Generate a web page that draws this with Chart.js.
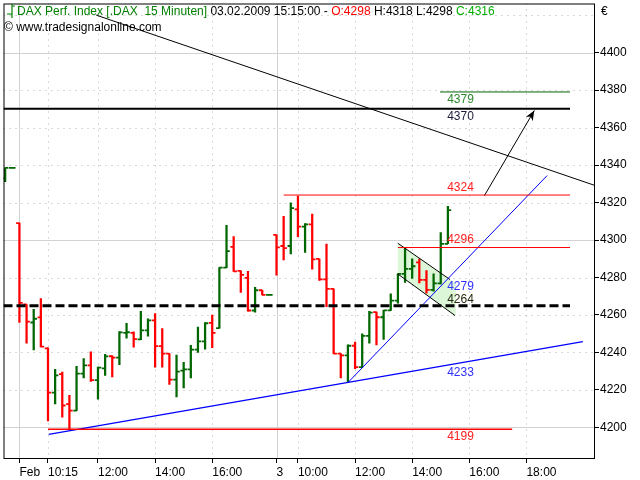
<!DOCTYPE html>
<html>
<head>
<meta charset="utf-8">
<script src="https://cdn.jsdelivr.net/npm/chart.js@4.4.1/dist/chart.umd.min.js"></script>
<style>
  html, body { margin: 0; padding: 0; background: #fff; }
</style>
</head>
<body>
<canvas id="dax" width="640" height="480"></canvas>
<script>
// 15 minute bars, first one is two bars before Feb 2 09:15
const firstBar = -2;
const opens  = [4333, 4338.5,
  4309, 4265.6, 4256, 4258.7, 4242.2, 4218.6, 4228.4, 4212.4, 4209, 4228.7,
  4233.1, 4225.3, 4231.5, 4238, 4237.3, 4250.5, 4250.5, 4247, 4251.8, 4257.1,
  4243.4, 4239.4, 4225.5, 4230.3, 4231, 4241.5, 4245.9, 4255.8, 4253, 4285.3,
  4296.3, 4283.5, 4279.8, 4262.4, 4273.2, 4270.7,
  4302.8, 4296.8, 4296.8, 4316.4, 4307.2, 4308.4, 4289.9, 4279, 4273.9, 4239.4,
  4238.5, 4243.6, 4232.2, 4248.9, 4261.5, 4258.8, 4262.5, 4267.7, 4281.9, 4284.6,
  4288.1, 4278.7, 4273.4, 4276.9, 4298];
const highs  = [4338.5, 4338.5,
  4309, 4265.6, 4263, 4268.8, 4242.5, 4231, 4229.6, 4217.2, 4232.6, 4236.7,
  4240.4, 4232.2, 4239, 4238.2, 4251.1, 4255.5, 4251, 4261.9, 4258, 4260.8,
  4252.8, 4239.4, 4238.6, 4234.7, 4243.8, 4253.5, 4256, 4259.9, 4285.3, 4307.8,
  4301.8, 4283.5, 4283.3, 4274.8, 4273.2, 4270.7,
  4302.8, 4312.6, 4319.8, 4323.4, 4308.8, 4313.8, 4289.9, 4297.9, 4273.9, 4239.4,
  4244.1, 4245.5, 4250, 4262, 4261.5, 4262.5, 4271.3, 4281.9, 4295.7, 4290,
  4289.9, 4283.7, 4281.9, 4304, 4318];
const lows   = [4331.2, 4338.5,
  4256, 4245, 4241.3, 4243, 4203.5, 4212.6, 4205.5, 4198.6, 4209, 4226.4,
  4224.6, 4215.1, 4227.8, 4226.9, 4233.5, 4247.7, 4242.9, 4246.8, 4248.7, 4232.2,
  4232.2, 4222.9, 4216.3, 4221.1, 4226.4, 4240, 4241.8, 4242.6, 4253, 4285.3,
  4283.3, 4272.1, 4262, 4261.5, 4270.7, 4270.7,
  4281.2, 4289.4, 4292.6, 4301.8, 4293.4, 4284.4, 4278.4, 4264.5, 4239.4, 4226.4,
  4223.9, 4231.4, 4232.2, 4245, 4244, 4247, 4262.5, 4266.3, 4277.4, 4279.5,
  4277.1, 4271.6, 4272.7, 4276.6, 4298];
const closes = [4338.5, 4338.5,
  4266.5, 4256.5, 4258, 4243.1, 4218.6, 4227.8, 4211.7, 4209, 4228.7, 4233.1,
  4225.3, 4231.9, 4237.9, 4237.3, 4250.7, 4250.8, 4247.1, 4251.8, 4257.1, 4243.4,
  4239.4, 4225.5, 4229.8, 4231, 4241.5, 4245.9, 4255.6, 4250.5, 4285.3, 4294.1,
  4283.3, 4281.4, 4262.4, 4273.2, 4270.7, 4270.7,
  4296.1, 4295.7, 4317, 4307.2, 4308.4, 4289.7, 4279, 4273.9, 4239.4, 4238.5,
  4243.6, 4232.2, 4248.9, 4261.3, 4258.8, 4262.5, 4267.7, 4281.9, 4284.6, 4286,
  4278.7, 4273.4, 4276.9, 4298, 4316];

// time axis (bar index -> label)
const timeTicks  = [0, 4, 11, 19, 27, 36, 39, 47, 55, 63, 71];
const timeLabels = ["Feb", "10:15", "12:00", "14:00", "16:00", "3", "10:00", "12:00", "14:00", "16:00", "18:00"];
const dayStarts  = [0, 36];
const priceTicks = [4200, 4220, 4240, 4260, 4280, 4300, 4320, 4340, 4360, 4380, 4400];
const gridPrices = [4200, 4220, 4240, 4260, 4280, 4300, 4320, 4340, 4360, 4380, 4400, 4420];

const xMin = -2.23, xMax = 80.6;
const yMin = 4183.7, yMax = 4426.2;

// drawing tools, in (bar index, price)
const downTrend   = [{ x: 10.75, y: 4420 }, { x: 80.6, y: 4329.1 }];
const lowTrend    = [{ x: 4.1, y: 4196.3 }, { x: 78.9, y: 4245.8 }];
const steepTrend  = [{ x: 46, y: 4223.9 }, { x: 73.9, y: 4334.4 }];
const targetArrow = [{ x: 65.1, y: 4323.6 }, { x: 72.1, y: 4369.1 }];
const flagTop     = [{ x: 52.98, y: 4298.3 }, { x: 60.3, y: 4278.9 }];
const flagBottom  = [{ x: 52.98, y: 4281.9 }, { x: 61.0, y: 4259.7 }];
const flagArea    = [{ x: 52.98, y: 4298.3 }, { x: 61.1, y: 4276.9 }, { x: 61.1, y: 4259.5 }, { x: 52.98, y: 4281.9 }];

const levelPrices = [4379, 4370, 4324, 4296, 4265, 4199];
const levelFrom   = [58.9, xMin, 37, 53, xMin, 4];
const levelTo     = [77.1, 77.1, 77.1, 77.1, 77.1, 69];

const labelTexts  = ["4379", "4370", "4324", "4296", "4279", "4264", "4233", "4199"];
const labelPrices = [4379, 4370, 4324, 4296, 4279, 4264, 4233, 4199];
const labelBar    = 59.9;

const FONT = "Arial, 'Liberation Sans', sans-serif";
const UP = "#006600", DOWN = "#ff0000";

const barColors = opens.map((o, k) => closes[k] >= o ? UP : DOWN);
const idx = k => firstBar + k;

// levels: colour, width, dash
const levelStyle = [
  ["#006400", 1, []], ["#000000", 2, []], ["#ff0000", 1, []],
  ["#ff0000", 1, []], ["#000000", 3, [9, 4]], ["#ff0000", 1.5, []]
];
const labelColors = ["#2e8b2e", "#1c1c3c", "#ff2020", "#ff2020", "#3030ff", "#2a2a10", "#3030ff", "#ff2020"];
const labelBelow  = [true, true, false, false, true, false, true, true];

function seg(data, color, width, dash) {
  return {
    type: "line", data, borderColor: color, borderWidth: width, borderDash: dash || [],
    pointRadius: 0, fill: false, tension: 0, order: 0
  };
}

const datasets = [];
levelPrices.forEach((p, i) => {
  const [c, w, d] = levelStyle[i];
  datasets.push(seg([{ x: levelFrom[i], y: p }, { x: levelTo[i], y: p }], c, w, d));
});
datasets.push(seg(downTrend, "#000000", 1));
datasets.push(seg(lowTrend, "#0000ff", 1.4));
datasets.push(seg(steepTrend, "#0000ff", 1));
datasets.push(seg(targetArrow, "#000000", 1));
datasets.push(seg(flagTop, "#000000", 1));
datasets.push(seg(flagBottom, "#000000", 1));

// high-low range
datasets.push({
  type: "bar",
  data: opens.map((_, k) => ({ x: idx(k), y: [lows[k], highs[k]] })),
  backgroundColor: barColors,
  borderWidth: 0,
  barThickness: 1.6,
  order: 3
});
// open (left) and close (right) ticks
const tickOff = 0.22;
datasets.push({
  type: "scatter",
  data: opens.map((o, k) => ({ x: idx(k) - tickOff, y: o })),
  pointStyle: "line", pointRadius: 1.7, pointBorderWidth: 1.8,
  pointBorderColor: barColors, pointHoverRadius: 1.7, order: 2
});
datasets.push({
  type: "scatter",
  data: closes.map((c, k) => ({ x: idx(k) + tickOff, y: c })),
  pointStyle: "line", pointRadius: 1.7, pointBorderWidth: 1.8,
  pointBorderColor: barColors, pointHoverRadius: 1.7, order: 2
});

function px(chart, pt) {
  return [chart.scales.x.getPixelForValue(pt.x), chart.scales.y.getPixelForValue(pt.y)];
}

const sheet = {
  id: "sheet",
  beforeDraw(chart) {
    const { ctx } = chart;
    ctx.save();
    ctx.fillStyle = "#fff";
    ctx.fillRect(0, 0, chart.width, chart.height);
    ctx.restore();
  },
  beforeDatasetsDraw(chart) {
    const { ctx, chartArea: a, scales: { x, y } } = chart;
    ctx.save();
    ctx.lineWidth = 1;
    gridPrices.forEach(p => {
      const py = Math.round(y.getPixelForValue(p)) + 0.5;
      const solid = p % 100 === 0;
      ctx.strokeStyle = solid ? "#d2d2d2" : "#b0b0b0";
      ctx.setLineDash(solid ? [] : [1, 5]);
      ctx.beginPath(); ctx.moveTo(a.left, py); ctx.lineTo(a.right, py); ctx.stroke();
    });
    timeTicks.forEach(t => {
      const vx = Math.round(x.getPixelForValue(t)) + 0.5;
      const solid = dayStarts.includes(t);
      ctx.strokeStyle = solid ? "#d2d2d2" : "#b0b0b0";
      ctx.setLineDash(solid ? [] : [1, 5]);
      ctx.beginPath(); ctx.moveTo(vx, a.top); ctx.lineTo(vx, a.bottom); ctx.stroke();
    });
    // flag area
    ctx.setLineDash([]);
    ctx.fillStyle = "#dcf6d8";
    ctx.beginPath();
    flagArea.forEach((pt, i) => {
      const [fx, fy] = px(chart, pt);
      if (i === 0) ctx.moveTo(fx, fy); else ctx.lineTo(fx, fy);
    });
    ctx.closePath();
    ctx.fill();
    ctx.restore();
  },
  afterDatasetsDraw(chart) {
    const { ctx, chartArea: a } = chart;
    ctx.save();

    // arrow head
    const [x0, y0] = px(chart, targetArrow[0]);
    const [x1, y1] = px(chart, targetArrow[1]);
    const ang = Math.atan2(y1 - y0, x1 - x0);
    ctx.fillStyle = "#000";
    ctx.beginPath();
    ctx.moveTo(x1, y1);
    ctx.lineTo(x1 - 10 * Math.cos(ang) + 4 * Math.sin(ang), y1 - 10 * Math.sin(ang) - 4 * Math.cos(ang));
    ctx.lineTo(x1 - 7 * Math.cos(ang), y1 - 7 * Math.sin(ang));
    ctx.lineTo(x1 - 10 * Math.cos(ang) - 4 * Math.sin(ang), y1 - 10 * Math.sin(ang) + 4 * Math.cos(ang));
    ctx.closePath();
    ctx.fill();

    // value labels
    ctx.font = "12px " + FONT;
    ctx.textBaseline = "middle";
    ctx.textAlign = "left";
    labelTexts.forEach((t, i) => {
      const [lx, ly] = px(chart, { x: labelBar, y: labelPrices[i] });
      ctx.fillStyle = labelColors[i];
      ctx.fillText(t, lx, ly + (labelBelow[i] ? 7.5 : -7.5));
    });

    // frame
    ctx.strokeStyle = "#000";
    ctx.lineWidth = 1;
    ctx.strokeRect(a.left + 0.5, a.top + 0.5, a.right - a.left - 1, a.bottom - a.top);

    // header
    const last = opens.length - 1;
    const runs = [
      ["DAX Perf. Index [.DAX  15 Minuten] ", "#008000"],
      ["03.02.2009 15:15:00 - ", "#000000"],
      ["O:" + Math.round(opens[last]), "#ff0000"],
      [" H:" + Math.round(highs[last]) + " L:" + Math.round(lows[last]) + " ", "#000000"],
      ["C:" + Math.round(closes[last]), "#00b000"]
    ];
    let tx = 17;
    runs.forEach(([t, c]) => {
      ctx.fillStyle = c;
      ctx.fillText(t, tx, 12);
      tx += ctx.measureText(t).width;
    });
    ctx.fillStyle = "#000";
    ctx.fillText("\u00a9 www.tradesignalonline.com", 4, 28);
    ctx.fillText("\u20ac", a.right + 6, 12);

    // small bar glyph in front of the header
    ctx.strokeStyle = "#008000";
    ctx.lineWidth = 1.2;
    ctx.beginPath();
    ctx.moveTo(12, 4); ctx.lineTo(12, 18);
    ctx.moveTo(7, 14); ctx.lineTo(12, 14);
    ctx.moveTo(12, 6); ctx.lineTo(15, 6);
    ctx.stroke();
    ctx.restore();
  }
};

Chart.defaults.font.family = FONT;
Chart.defaults.font.size = 12;
Chart.defaults.color = "#000";

new Chart(document.getElementById("dax"), {
  type: "bar",
  data: { datasets },
  plugins: [sheet],
  options: {
    responsive: false,
    animation: false,
    events: [],
    layout: { padding: { left: 2, top: 2, right: 0, bottom: 0 } },
    plugins: { legend: { display: false }, tooltip: { enabled: false } },
    scales: {
      x: {
        type: "linear", position: "bottom", min: xMin, max: xMax, offset: false,
        afterBuildTicks: s => { s.ticks = timeTicks.map(v => ({ value: v })); },
        afterFit: s => { s.height = 22; s.paddingLeft = 0; s.paddingRight = 0; },
        ticks: {
          autoSkip: false, maxRotation: 0, align: "start", padding: 2,
          callback: v => timeLabels[timeTicks.indexOf(v)]
        },
        grid: { drawOnChartArea: false, drawTicks: true, tickLength: 5, tickColor: "#000", offset: false },
        border: { display: false }
      },
      y: {
        type: "linear", position: "right", min: yMin, max: yMax,
        afterBuildTicks: s => { s.ticks = priceTicks.map(v => ({ value: v })); },
        afterFit: s => { s.width = 45; s.paddingTop = 0; s.paddingBottom = 0; },
        ticks: { padding: 1, callback: v => String(v) },
        grid: { drawOnChartArea: false, drawTicks: true, tickLength: 4, tickColor: "#000" },
        border: { display: false }
      }
    }
  }
});
</script>
</body>
</html>
